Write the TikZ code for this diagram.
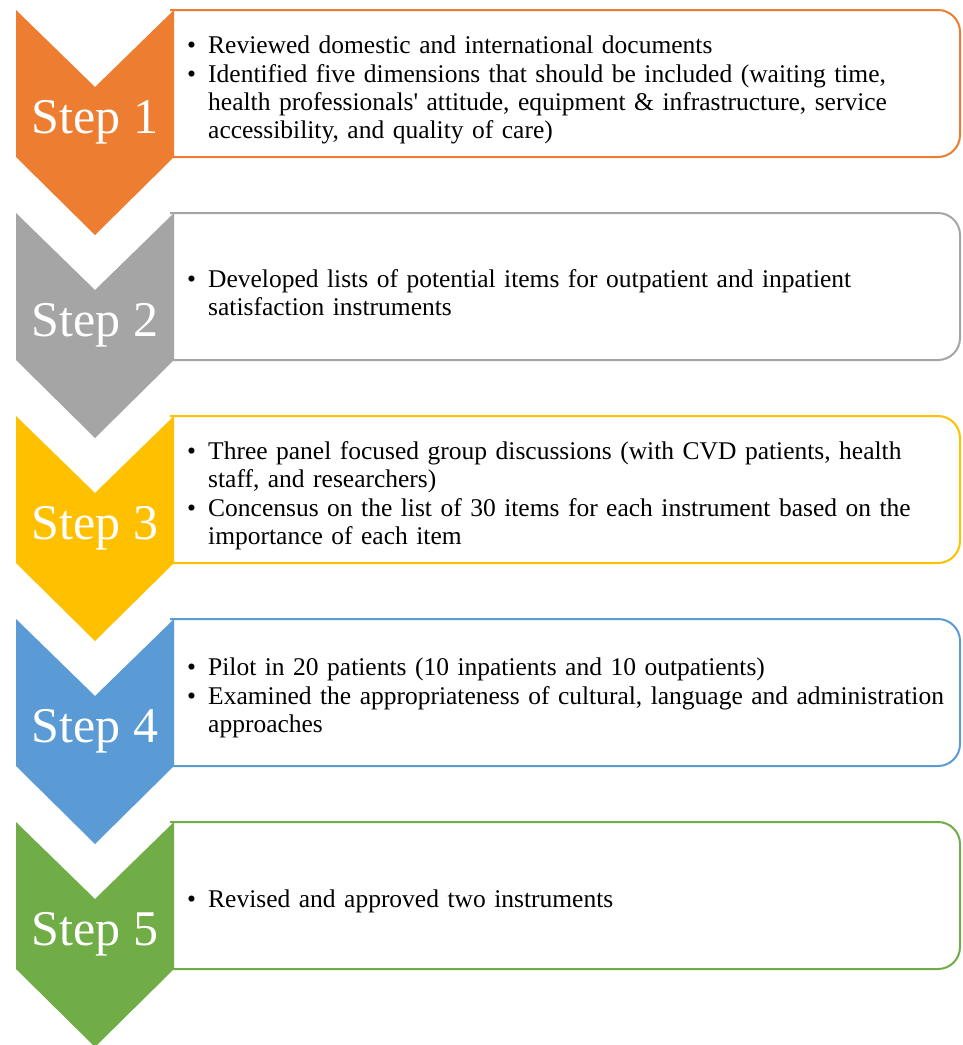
\documentclass[tikz,border=0pt]{standalone}
\usepackage{fontspec}
\setmainfont{Liberation Serif}
\definecolor{cOrange}{HTML}{ED7D31}
\definecolor{cGray}{HTML}{A5A5A5}
\definecolor{cGold}{HTML}{FFC000}
\definecolor{cBlue}{HTML}{5B9BD5}
\definecolor{cGreen}{HTML}{70AD47}
\newcommand{\bul}[1]{\par\noindent\hangindent=21pt\hangafter=1\makebox[21pt][l]{\textbullet}#1\par}
\tikzset{
  steplabel/.style={text=white, font=\fontsize{50}{60}\selectfont, inner sep=0pt},
  bodytext/.style={anchor=west, text width=770pt, align=left, inner sep=0pt,
     font=\fontsize{25.5}{28}\selectfont\setlength{\parskip}{1.5pt}},
}
\newcommand{\stepbox}[4]{% #1 top, #2 colour, #3 name, #4 label
  \draw[#2, line width=2pt, fill=white, rounded corners=22pt]
    (170,#1+147) -- (960,#1+147) -- (960,#1) -- (170,#1);
  \fill[#2] (16,#1) -- (95,#1+77) -- (174,#1) -- (174,#1+147) -- (95,#1+225) -- (16,#1+147) -- cycle;
  \node[steplabel] (#3) at (95,#1+112) {#4};
}
\begin{document}
\begin{tikzpicture}[x=1pt,y=-1pt]
\useasboundingbox (0,0) rectangle (963,1045);
\stepbox{10}{cOrange}{s1}{Step 1}
\stepbox{213}{cGray}{s2}{Step 2}
\stepbox{416}{cGold}{s3}{Step 3}
\stepbox{619}{cBlue}{s4}{Step 4}
\stepbox{822}{cGreen}{s5}{Step 5}
\node[bodytext] (t1) at (187,84) {%
\bul{Reviewed domestic and international documents}%
\bul{Identified five dimensions that should be included (waiting time,\newline health professionals\textquotesingle{} attitude, equipment \& infrastructure, service\newline accessibility, and quality of care)}};
\node[bodytext] (t2) at (187,287) {%
\bul{Developed lists of potential items for outpatient and inpatient\newline satisfaction instruments}};
\node[bodytext] (t3) at (187,490) {%
\bul{Three panel focused group discussions (with CVD patients, health\newline staff, and researchers)}%
\bul{Concensus on the list of 30 items for each instrument based on the\newline importance of each item}};
\node[bodytext] (t4) at (187,692) {%
\bul{Pilot in 20 patients (10 inpatients and 10 outpatients)}%
\bul{Examined the appropriateness of cultural, language and administration\newline approaches}};
\node[bodytext] (t5) at (187,895) {%
\bul{Revised and approved two instruments}};
\end{tikzpicture}
\end{document}
